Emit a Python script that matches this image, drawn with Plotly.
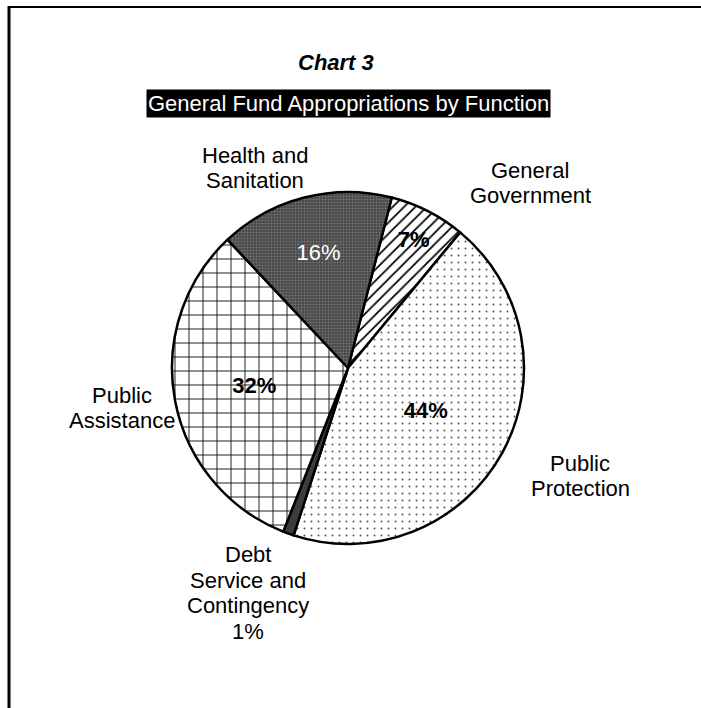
import plotly.graph_objects as go

W, H = 701, 708

categories = ["General Government", "Public Protection", "Debt Service and Contingency",
              "Public Assistance", "Health and Sanitation"]
values = [7, 44, 1, 32, 16]
label_lines = [["General", "Government"], ["Public", "Protection"],
               ["Debt", "Service and", "Contingency", "1%"], ["Public", "Assistance"],
               ["Health and", "Sanitation"]]
# label anchor positions in pixels (center x, center y of the block, from top)
label_pos = [(530, 183), (580, 476), (248, 593), (122, 408), (255, 168)]
LINE_H = 25.5

FONT = "Liberation Sans, Arial, sans-serif"

fills = ["white", "white", "#3c3c3c", "white", "#4e4e4e"]
pat_shapes = ["/", ".", "", "+", "."]
pat_fg = ["black", "#555555", "#3c3c3c", "black", "#777777"]
pat_bg = ["white", "white", "#3c3c3c", "white", "#474747"]
pat_size = [8, 7, 8, 14, 3]
pat_solid = [0.22, 0.06, 0.3, 0.12, 0.35]
templates = ["<b>%{percent:.0%}</b>", "<b>%{percent:.0%}</b>", "",
             "<b>%{percent:.0%}</b>", "%{percent:.0%}"]
text_colors = ["black", "black", "black", "black", "white"]

fig = go.Figure()
fig.add_trace(go.Pie(
    labels=categories,
    values=values,
    sort=False,
    direction="clockwise",
    rotation=14.4,
    texttemplate=templates,
    textposition="inside",
    insidetextorientation="horizontal",
    insidetextfont=dict(family=FONT, size=22, color=text_colors),
    marker=dict(
        colors=fills,
        line=dict(color="black", width=2.5),
        pattern=dict(shape=pat_shapes, fgcolor=pat_fg, bgcolor=pat_bg,
                     size=pat_size, solidity=pat_solid, fillmode="replace"),
    ),
    showlegend=False,
    hoverinfo="label+percent",
    domain=dict(x=[172 / W, 524 / W], y=[1 - 544 / H, 1 - 192 / H]),
))

annotations = []
for lines, (px, py) in zip(label_lines, label_pos):
    n = len(lines)
    for i, line in enumerate(lines):
        ly = py + (i - (n - 1) / 2) * LINE_H
        annotations.append(dict(
            text=line, x=px / W, y=1 - ly / H, xref="paper", yref="paper",
            xanchor="center", yanchor="middle", showarrow=False, align="center",
            font=dict(family=FONT, size=22, color="black"),
        ))

annotations.append(dict(
    text="<b><i>Chart 3</i></b>", x=336 / W, y=1 - 63 / H, xref="paper", yref="paper",
    xanchor="center", yanchor="middle", showarrow=False,
    font=dict(family=FONT, size=22, color="black"),
))
annotations.append(dict(
    text="General Fund Appropriations by Function", x=348 / W, y=1 - 103 / H,
    xref="paper", yref="paper", xanchor="center", yanchor="middle", showarrow=False,
    font=dict(family=FONT, size=22, color="white"), bgcolor="black", borderpad=1,
))

shapes = [
    dict(type="line", xref="paper", yref="paper", x0=8 / W, x1=1, y0=1 - 7 / H, y1=1 - 7 / H,
         line=dict(color="black", width=2)),
    dict(type="line", xref="paper", yref="paper", x0=9 / W, x1=9 / W, y0=0, y1=1 - 6 / H,
         line=dict(color="black", width=3)),
]

fig.update_layout(
    width=W, height=H,
    margin=dict(l=0, r=0, t=0, b=0),
    paper_bgcolor="white", plot_bgcolor="white",
    annotations=annotations, shapes=shapes,
    font=dict(family=FONT),
)

fig.write_html("out.html")
